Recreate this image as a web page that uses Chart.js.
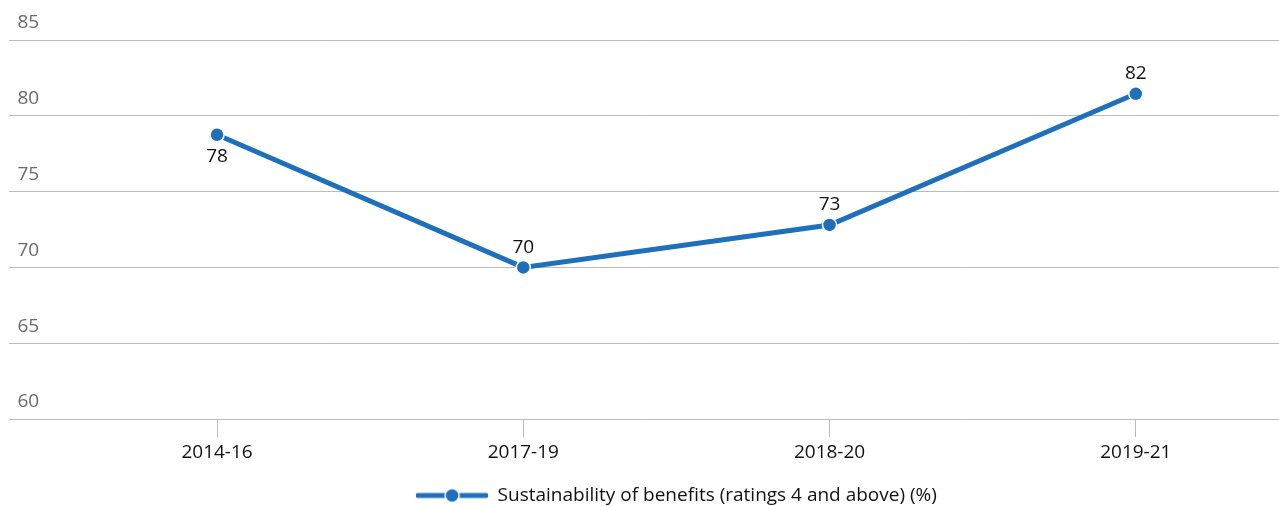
<!DOCTYPE html>
<html>
<head>
<meta charset="utf-8">
<script src="https://cdn.jsdelivr.net/npm/chart.js@4.4.1/dist/chart.umd.min.js"></script>
<style>
html,body{margin:0;padding:0;background:#fff;overflow:hidden;}
#wrap{width:1289px;height:506px;position:relative;}
</style>
</head>
<body>
<div id="wrap"><canvas id="c"></canvas></div>
<script>
const categories = ['2014-16', '2017-19', '2018-20', '2019-21'];
const values = [78.75, 70, 72.8, 81.45];
const valueLabels = ['78', '70', '73', '82'];
const seriesName = 'Sustainability of benefits (ratings 4 and above) (%)';
const yTicks = [60, 65, 70, 75, 80, 85];

const FONT = "'Open Sans', 'Noto Sans', sans-serif";
const FS = 19;
const BLUE = '#1f70ba';

// legend symbol: line with a dot
const sym = document.createElement('canvas');
sym.width = 72; sym.height = 16;
(function(){
  const g = sym.getContext('2d');
  g.strokeStyle = BLUE; g.lineWidth = 5; g.lineCap = 'round';
  g.beginPath(); g.moveTo(2, 8); g.lineTo(70, 8); g.stroke();
  g.fillStyle = BLUE; g.strokeStyle = '#fff'; g.lineWidth = 1.5;
  g.beginPath(); g.arc(36, 8, 7, 0, Math.PI * 2); g.fill(); g.stroke();
})();

const pointLabels = {
  id: 'pointLabels',
  afterDatasetsDraw(chart) {
    const meta = chart.getDatasetMeta(0);
    const ctx = chart.ctx;
    ctx.save();
    ctx.font = FS + 'px ' + FONT;
    ctx.fillStyle = '#111';
    ctx.textAlign = 'center';
    ctx.textBaseline = 'middle';
    meta.data.forEach((pt, i) => {
      const below = i === 0;
      ctx.fillText(valueLabels[i], pt.x, below ? pt.y + 22 : pt.y - 20);
    });
    ctx.restore();
  }
};

const legendShift = {
  id: 'legendShift',
  afterLayout(chart) {
    if (chart.legend) { chart.legend.left += 28; chart.legend.right += 28; }
  }
};

new Chart(document.getElementById('c'), {
  type: 'line',
  data: {
    datasets: [{
      label: seriesName,
      data: values.map((v, i) => ({x: i, y: v})),
      borderColor: BLUE,
      backgroundColor: BLUE,
      borderWidth: 5,
      pointRadius: 7,
      pointHoverRadius: 7,
      pointBackgroundColor: BLUE,
      pointBorderColor: '#fff',
      pointBorderWidth: 1.5,
      tension: 0,
      fill: false
    }]
  },
  options: {
    responsive: true,
    maintainAspectRatio: false,
    animation: false,
    events: [],
    layout: { padding: { top: 40, left: 8, right: 0, bottom: -9 } },
    scales: {
      x: {
        type: 'linear',
        min: -0.681,
        max: 3.4725,
        afterBuildTicks(scale) { scale.ticks = categories.map((c, i) => ({ value: i })); },
        afterFit(scale) { scale.paddingLeft = 0; scale.paddingRight = 0; scale.height = 61; },
        ticks: {
          callback: (v) => categories[v],
          color: '#111',
          font: { family: FONT, size: FS },
          padding: 4,
          maxRotation: 0,
          autoSkip: false
        },
        grid: { drawOnChartArea: false, drawTicks: true, tickLength: 18, color: '#bbbbbb', lineWidth: 1 },
        border: { display: false }
      },
      y: {
        min: 60,
        max: 85,
        afterBuildTicks(scale) { scale.ticks = yTicks.map(v => ({ value: v })); },
        afterFit(scale) { scale.width = 0; scale.paddingTop = 0; scale.paddingBottom = 0; },
        ticks: {
          mirror: true,
          padding: 9,
          labelOffset: -17,
          color: '#6a6a6a',
          font: { family: FONT, size: FS }
        },
        grid: { drawTicks: false, color: '#bbbbbb', lineWidth: 1 },
        border: { display: false }
      }
    },
    plugins: {
      legend: {
        position: 'bottom',
        labels: {
          usePointStyle: true,
          pointStyle: sym,
          pointStyleWidth: 72,
          color: '#111',
          font: { family: FONT, size: FS },
          padding: 6
        }
      },
      tooltip: { enabled: false }
    }
  },
  plugins: [pointLabels, legendShift]
});
</script>
</body>
</html>
